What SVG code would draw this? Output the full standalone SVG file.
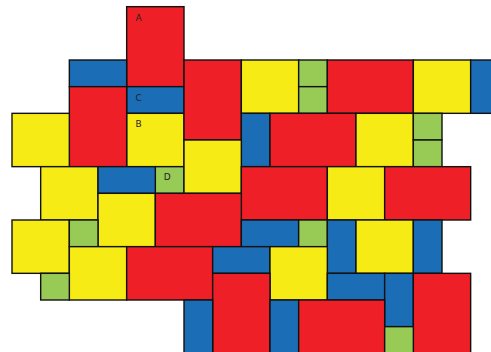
<svg xmlns="http://www.w3.org/2000/svg" width="491" height="352" viewBox="0 0 491 352">
<style>
rect{stroke:#111;stroke-width:1.4}
.r{fill:#EE1F27}.y{fill:#F6EB14}.b{fill:#1B6DB5}.g{fill:#98CA56}
text{font-family:"DejaVu Sans","Liberation Sans",sans-serif;font-size:9px;fill:#222}
</style>
<rect width="491" height="352" fill="#fff" style="stroke:none"/>
<!-- unit: w=28.667, h=26.667; origin x=12, y=6.667 -->
<g id="A"><rect class="r" x="126.67" y="6.67" width="57.33" height="80"/><text x="135.5" y="20.5">A</text></g>
<g id="C"><rect class="b" x="126.67" y="86.67" width="57.33" height="26.67"/><text x="135.5" y="100.5">C</text></g>
<g id="B"><rect class="y" x="126.67" y="113.33" width="57.33" height="53.33"/><text x="135.5" y="126.8">B</text></g>
<g id="D"><rect class="g" x="155.33" y="166.67" width="28.67" height="26.67"/><text x="163.8" y="179.8">D</text></g>
<g id="tiles">
<rect class="b" x="69.33" y="60" width="57.33" height="26.67"/>
<rect class="r" x="184" y="60" width="57.33" height="80"/>
<rect class="y" x="241.33" y="60" width="57.33" height="53.33"/>
<rect class="g" x="298.67" y="60" width="28.67" height="26.67"/>
<rect class="g" x="298.67" y="86.67" width="28.67" height="26.67"/>
<rect class="r" x="327.33" y="60" width="86" height="53.33"/>
<rect class="y" x="413.33" y="60" width="57.33" height="53.33"/>
<rect class="b" x="470.67" y="60" width="28.67" height="53.33"/>
<rect class="r" x="69.33" y="86.67" width="57.33" height="80"/>
<rect class="y" x="12" y="113.33" width="57.33" height="53.33"/>
<rect class="b" x="241.33" y="113.33" width="28.67" height="53.33"/>
<rect class="r" x="270" y="113.33" width="86" height="53.33"/>
<rect class="y" x="356" y="113.33" width="57.33" height="53.33"/>
<rect class="g" x="413.33" y="113.33" width="28.67" height="26.67"/>
<rect class="g" x="413.33" y="140" width="28.67" height="26.67"/>
<rect class="y" x="184" y="140" width="57.33" height="53.33"/>
<rect class="y" x="40.67" y="166.67" width="57.33" height="53.33"/>
<rect class="b" x="98" y="166.67" width="57.33" height="26.67"/>
<rect class="r" x="241.33" y="166.67" width="86" height="53.33"/>
<rect class="y" x="327.33" y="166.67" width="57.33" height="53.33"/>
<rect class="r" x="384.67" y="166.67" width="86" height="53.33"/>
<rect class="y" x="98" y="193.33" width="57.33" height="53.33"/>
<rect class="r" x="155.33" y="193.33" width="86" height="53.33"/>
<rect class="y" x="12" y="220" width="57.33" height="53.33"/>
<rect class="g" x="69.33" y="220" width="28.67" height="26.67"/>
<rect class="b" x="241.33" y="220" width="57.33" height="26.67"/>
<rect class="g" x="298.67" y="220" width="28.67" height="26.67"/>
<rect class="b" x="327.33" y="220" width="28.67" height="53.33"/>
<rect class="y" x="356" y="220" width="57.33" height="53.33"/>
<rect class="b" x="413.33" y="220" width="28.67" height="53.33"/>
<rect class="y" x="69.33" y="246.67" width="57.33" height="53.33"/>
<rect class="r" x="126.67" y="246.67" width="86" height="53.33"/>
<rect class="b" x="212.67" y="246.67" width="57.33" height="26.67"/>
<rect class="y" x="270" y="246.67" width="57.33" height="53.33"/>
<rect class="g" x="40.67" y="273.33" width="28.67" height="26.67"/>
<rect class="r" x="212.67" y="273.33" width="57.33" height="80"/>
<rect class="b" x="327.33" y="273.33" width="57.33" height="26.67"/>
<rect class="b" x="384.67" y="273.33" width="28.67" height="53.33"/>
<rect class="r" x="413.33" y="273.33" width="57.33" height="80"/>
<rect class="b" x="184" y="300" width="28.67" height="53.33"/>
<rect class="b" x="270" y="300" width="28.67" height="53.33"/>
<rect class="r" x="298.67" y="300" width="86" height="53.33"/>
<rect class="g" x="384.67" y="326.67" width="28.67" height="26.67"/>
</g>
</svg>
